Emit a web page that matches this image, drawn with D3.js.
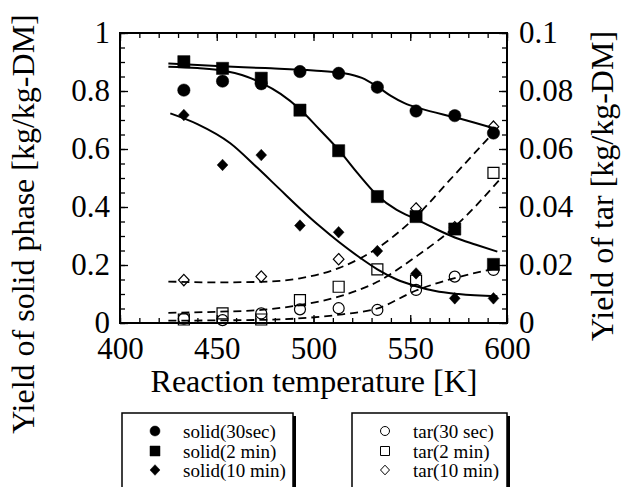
<!DOCTYPE html>
<html><head><meta charset="utf-8">
<script src="https://cdn.jsdelivr.net/npm/d3@7"></script>
<style>body{margin:0;background:#fff}</style>
</head><body><svg id="c" width="622" height="487"></svg>
<script>
// ---- measured data (temperature in K) ----
const temps   = [433, 453, 473, 493, 513, 533, 553, 573, 593];
const solid30 = [0.803, 0.834, 0.825, 0.867, 0.861, 0.813, 0.731, 0.715, 0.655];
const solid2  = [0.901, 0.878, 0.844, 0.734, 0.594, 0.436, 0.367, 0.324, 0.202];
const solid10 = [0.717, 0.545, 0.579, 0.336, 0.313, 0.248, 0.171, 0.085, 0.085];
const tar30   = [0.0015, 0.0010, 0.0033, 0.0047, 0.0051, 0.0045, 0.0114, 0.0160, 0.0183];
const tar2    = [0.0012, 0.0033, 0.0012, 0.0079, 0.0125, 0.0185, 0.0146, null, 0.0518];
const tar10   = [0.0148, null, 0.0160, null, 0.0220, null, 0.0395, 0.0330, 0.0677];

// ---- fitted curves ----
const fitS30T = [425, 450, 475, 500, 515, 525, 533, 540, 547, 555, 575, 595];
const fitS30  = [0.895, 0.886, 0.879, 0.871, 0.862, 0.845, 0.815, 0.783, 0.758, 0.740, 0.706, 0.668];
const fitS2T  = [425, 440, 453, 463, 473, 483, 493, 503, 513, 523, 533, 543, 553, 563, 573, 584, 595];
const fitS2   = [0.884, 0.879, 0.871, 0.855, 0.828, 0.790, 0.737, 0.668, 0.597, 0.515, 0.440, 0.390, 0.358, 0.325, 0.295, 0.270, 0.246];
const fitS10T = [426, 440, 457, 471, 482, 493, 503, 513, 523, 533, 543, 553, 563, 575, 595];
const fitS10  = [0.723, 0.686, 0.620, 0.535, 0.465, 0.395, 0.335, 0.280, 0.230, 0.185, 0.150, 0.127, 0.110, 0.100, 0.092];
const fitT10T = [425, 450, 473, 493, 513, 533, 553, 570, 595];
const fitT10  = [0.0143, 0.0140, 0.0142, 0.0154, 0.0189, 0.0258, 0.0367, 0.0490, 0.0671];
const fitT2T  = [425, 452, 473, 493, 513, 533, 553, 573, 596];
const fitT2   = [0.0035, 0.0039, 0.0045, 0.0062, 0.0091, 0.0142, 0.0229, 0.0332, 0.0493];
const fitT30T = [425, 450, 475, 499, 515, 533, 553, 573, 595];
const fitT30  = [0.0008, 0.0009, 0.0011, 0.0019, 0.0030, 0.0050, 0.0112, 0.0155, 0.0189];

const xTicks = [400, 450, 500, 550, 600];
const yLeftTicks = [0, 0.2, 0.4, 0.6, 0.8, 1];
const yRightTicks = [0, 0.02, 0.04, 0.06, 0.08, 0.1];
const legendSolid = ["solid(30sec)", "solid(2 min)", "solid(10 min)"];
const legendTar = ["tar(30 sec)", "tar(2 min)", "tar(10 min)"];

const FONT = "'Liberation Serif', Tinos, 'Times New Roman', Times, 'DejaVu Serif', serif";
const svg = d3.select("#c").attr("font-family", FONT);
svg.append("rect").attr("width", 622).attr("height", 487).attr("fill", "#fff");

const L = 120, R = 507, T = 33, B = 323;
const x = d3.scaleLinear().domain([400, 600]).range([L, R]);
const yL = d3.scaleLinear().domain([0, 1]).range([B, T]);
const yR = d3.scaleLinear().domain([0, 0.1]).range([B, T]);

const fmt = d => d3.format("~g")(d);
function styleAxis(g) {
  g.attr("font-family", FONT);
  g.select(".domain").remove();
  g.selectAll("line").attr("stroke", "#000").attr("stroke-width", 1.3);
  g.selectAll("text").style("font-family", FONT).style("font-size", "31px").attr("fill", "#000");
}
// minor ticks
svg.append("g").attr("transform", `translate(0,${B})`)
  .call(d3.axisBottom(x).tickValues(d3.range(400, 601, 10)).tickSize(-5).tickFormat("")).call(styleAxis);
svg.append("g").attr("transform", `translate(0,${T})`)
  .call(d3.axisTop(x).tickValues(d3.range(400, 601, 10)).tickSize(-5).tickFormat("")).call(styleAxis);
svg.append("g").attr("transform", `translate(${L},0)`)
  .call(d3.axisLeft(yL).tickValues(d3.range(0, 1.001, 0.05)).tickSize(-5).tickFormat("")).call(styleAxis);
svg.append("g").attr("transform", `translate(${R},0)`)
  .call(d3.axisRight(yR).tickValues(d3.range(0, 0.1001, 0.005)).tickSize(-5).tickFormat("")).call(styleAxis);
// major ticks + labels
const gx = svg.append("g").attr("transform", `translate(0,${B})`)
  .call(d3.axisBottom(x).tickValues(xTicks).tickSize(-8).tickFormat(fmt)).call(styleAxis);
gx.selectAll("text").attr("y", 36).attr("dy", null);
svg.append("g").attr("transform", `translate(0,${T})`)
  .call(d3.axisTop(x).tickValues(xTicks).tickSize(-8).tickFormat("")).call(styleAxis);
const gyl = svg.append("g").attr("transform", `translate(${L},0)`)
  .call(d3.axisLeft(yL).tickValues(yLeftTicks).tickSize(-8).tickPadding(10).tickFormat(fmt)).call(styleAxis);
gyl.selectAll("text").attr("dy", "0.32em");
const gyr = svg.append("g").attr("transform", `translate(${R},0)`)
  .call(d3.axisRight(yR).tickValues(yRightTicks).tickSize(-8).tickPadding(12).tickFormat(fmt)).call(styleAxis);
gyr.selectAll("text").attr("dy", "0.32em");

// frame
svg.append("rect").attr("x", L).attr("y", T).attr("width", R - L).attr("height", B - T)
  .attr("fill", "none").attr("stroke", "#000").attr("stroke-width", 2);

// titles
function title(tr, s) {
  svg.append("text").attr("transform", tr).attr("text-anchor", "middle")
    .style("font-family", FONT).style("font-size", "32px").attr("fill", "#000").text(s);
}
title("translate(314,392)", "Reaction temperature [K]");
title("translate(34,224) rotate(-90)", "Yield of solid phase [kg/kg-DM]");
title("translate(613,186) rotate(-90)", "Yield of tar [kg/kg-DM]");

// curves
const plot = svg.append("g");
function curve(ts, vs, ys, dashed) {
  const line = d3.line().x(d => x(d[0])).y(d => ys(d[1])).curve(d3.curveMonotoneX);
  plot.append("path").attr("d", line(ts.map((t, i) => [t, vs[i]])))
    .attr("fill", "none").attr("stroke", "#000").attr("stroke-width", dashed ? 1.8 : 2)
    .attr("stroke-dasharray", dashed ? "8,5" : null);
}
curve(fitT10T, fitT10, yR, true);
curve(fitT2T, fitT2, yR, true);
curve(fitT30T, fitT30, yR, true);
curve(fitS30T, fitS30, yL, false);
curve(fitS2T, fitS2, yL, false);
curve(fitS10T, fitS10, yL, false);

function markerPath(type, s) {
  if (type === "circle") return `M${s},0A${s},${s},0,1,1,${-s},0A${s},${s},0,1,1,${s},0Z`;
  if (type === "square") return `M${-s},${-s}H${s}V${s}H${-s}Z`;
  return `M0,${-s * 1.07}L${s},0L0,${s * 1.07}L${-s},0Z`;
}
function points(vals, ys, type, s, filled) {
  plot.append("g").selectAll("path").data(temps.map((t, i) => [t, vals[i]]).filter(d => d[1] != null))
    .join("path").attr("d", markerPath(type, s))
    .attr("transform", d => `translate(${x(d[0])},${ys(d[1])})`)
    .attr("fill", filled ? "#000" : "none").attr("stroke", "#000").attr("stroke-width", filled ? 0.5 : 1.2);
}
points(tar30, yR, "circle", 5.5, false);
points(tar2, yR, "square", 5.5, false);
points(tar10, yR, "diamond", 5.3, false);
points(solid30, yL, "circle", 6.2, true);
points(solid2, yL, "square", 6.1, true);
points(solid10, yL, "diamond", 5.4, true);

// legends
function legend(x0, w, labels, filled) {
  const g = svg.append("g");
  g.append("rect").attr("x", x0 + 3).attr("y", 416).attr("width", w).attr("height", 100).attr("fill", "#000");
  g.append("rect").attr("x", x0).attr("y", 413).attr("width", w).attr("height", 100)
    .attr("fill", "#fff").attr("stroke", "#000").attr("stroke-width", 1.5);
  const types = ["circle", "square", "diamond"];
  const rows = [431, 451, 470];
  labels.forEach((lab, i) => {
    g.append("path").attr("d", markerPath(types[i], filled ? 5 : 4.5))
      .attr("transform", `translate(${x0 + 33},${rows[i]})`)
      .attr("fill", filled ? "#000" : "none").attr("stroke", "#000").attr("stroke-width", filled ? 0.5 : 1);
    g.append("text").attr("x", x0 + 61).attr("y", rows[i] + 6.5)
      .style("font-family", FONT).style("font-size", "19px").attr("fill", "#000").text(lab);
  });
}
legend(122, 171, legendSolid, true);
legend(352, 155, legendTar, false);
</script></body></html>
